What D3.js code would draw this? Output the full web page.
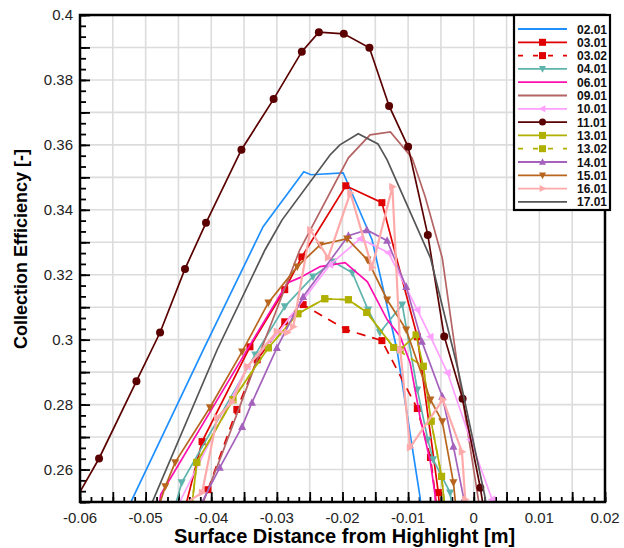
<!DOCTYPE html>
<html>
<head>
<meta charset="utf-8">
<script src="https://cdn.jsdelivr.net/npm/d3@7/dist/d3.min.js"></script>
<style>
  body { margin: 0; background: #fff; }
  text { font-family: "Liberation Sans", Arial, Helvetica, sans-serif; }
</style>
</head>
<body>
<script>
// series data: [surface distance (m), collection efficiency]
var s0201 = [[-0.0522,0.2502],[-0.0412,0.2969],[-0.0321,0.3348],[-0.0259,0.3517],[-0.0248,0.3508],[-0.0199,0.3514],[-0.0155,0.3308],[-0.0117,0.2969],[-0.0082,0.2517],[-0.0080,0.2480]];
var s0301 = [[-0.0440,0.2480],[-0.0414,0.2686],[-0.0341,0.2978],[-0.0288,0.3154],[-0.0262,0.3255],[-0.0195,0.3474],[-0.0140,0.3422],[-0.0086,0.3009],[-0.0054,0.2529],[-0.0052,0.2480]];
var s0302 = [[-0.0405,0.2538],[-0.0361,0.2785],[-0.0330,0.2938],[-0.0288,0.3055],[-0.0260,0.3108],[-0.0195,0.3031],[-0.0140,0.2997],[-0.0086,0.2788],[-0.0066,0.2637],[-0.0056,0.2480]];
var s0401 = [[-0.0456,0.2480],[-0.0445,0.2560],[-0.0333,0.2954],[-0.0288,0.3102],[-0.0245,0.3194],[-0.0214,0.3240],[-0.0185,0.3206],[-0.0161,0.3092],[-0.0143,0.3022],[-0.0109,0.3108],[-0.0086,0.2846],[-0.0070,0.2692],[-0.0062,0.2631],[-0.0036,0.2529],[-0.0033,0.2480]];
var s0601 = [[-0.0480,0.2480],[-0.0477,0.2523],[-0.0336,0.3000],[-0.0284,0.3175],[-0.0265,0.3191],[-0.0234,0.3225],[-0.0196,0.3237],[-0.0162,0.3178],[-0.0132,0.3062],[-0.0112,0.3009],[-0.0097,0.2929],[-0.0082,0.2763],[-0.0066,0.2622],[-0.0059,0.2523],[-0.0058,0.2480]];
var s0901 = [[-0.0416,0.2480],[-0.0384,0.2646],[-0.0330,0.2938],[-0.0265,0.3277],[-0.0191,0.3560],[-0.0158,0.3631],[-0.0127,0.3640],[-0.0094,0.3560],[-0.0074,0.3440],[-0.0048,0.3252],[-0.0024,0.2908],[0.0007,0.2508],[0.0009,0.2480]];
var s1001 = [[-0.0453,0.2480],[-0.0345,0.2917],[-0.0298,0.3022],[-0.0219,0.3231],[-0.0173,0.3311],[-0.0130,0.3268],[-0.0086,0.3092],[-0.0066,0.3009],[-0.0040,0.2898],[-0.0005,0.2692],[0.0028,0.2508],[0.0030,0.2480]];
var s1101 = [[-0.0606,0.2510],[-0.0571,0.2634],[-0.0514,0.2872],[-0.0478,0.3022],[-0.0440,0.3218],[-0.0408,0.3360],[-0.0354,0.3585],[-0.0305,0.3741],[-0.0262,0.3887],[-0.0236,0.3947],[-0.0198,0.3942],[-0.0159,0.3899],[-0.0129,0.3720],[-0.0100,0.3594],[-0.0070,0.3322],[-0.0045,0.3010],[-0.0017,0.2818],[0.0010,0.2544],[0.0015,0.2480]];
var s1301 = [[-0.0430,0.2480],[-0.0422,0.2622],[-0.0367,0.2815],[-0.0313,0.2975],[-0.0268,0.3080],[-0.0227,0.3126],[-0.0191,0.3123],[-0.0163,0.3084],[-0.0122,0.2976],[-0.0112,0.2969],[-0.0088,0.3015],[-0.0077,0.2918],[-0.0065,0.2749],[-0.0049,0.2579],[-0.0044,0.2480]];
var s1302 = [[-0.0430,0.2480],[-0.0422,0.2622],[-0.0367,0.2815],[-0.0313,0.2975],[-0.0268,0.3080],[-0.0227,0.3126],[-0.0191,0.3123],[-0.0163,0.3084],[-0.0122,0.2976],[-0.0077,0.2918],[-0.0065,0.2749],[-0.0049,0.2579],[-0.0044,0.2480]];
var s1401 = [[-0.0419,0.2480],[-0.0387,0.2606],[-0.0353,0.2732],[-0.0338,0.2806],[-0.0300,0.2975],[-0.0260,0.3132],[-0.0191,0.3320],[-0.0163,0.3338],[-0.0132,0.3305],[-0.0103,0.3163],[-0.0079,0.2994],[-0.0048,0.2825],[-0.0031,0.2671],[-0.0015,0.2508],[-0.0014,0.2480]];
var s1501 = [[-0.0481,0.2480],[-0.0470,0.2548],[-0.0455,0.2622],[-0.0402,0.2791],[-0.0353,0.2963],[-0.0313,0.3114],[-0.0269,0.3225],[-0.0234,0.3292],[-0.0193,0.3311],[-0.0162,0.3246],[-0.0132,0.3123],[-0.0103,0.3031],[-0.0066,0.2815],[-0.0048,0.2748],[-0.0031,0.2560],[-0.0027,0.2480]];
var s1601 = [[-0.0451,0.2480],[-0.0414,0.2529],[-0.0391,0.2760],[-0.0368,0.2809],[-0.0345,0.2917],[-0.0300,0.3025],[-0.0284,0.3022],[-0.0275,0.3040],[-0.0249,0.3338],[-0.0222,0.3252],[-0.0188,0.3452],[-0.0155,0.3222],[-0.0124,0.3471],[-0.0112,0.2969],[-0.0097,0.2668],[-0.0047,0.2815],[-0.0018,0.2655],[-0.0013,0.2508],[-0.0012,0.2480]];
var s1701 = [[-0.0494,0.2480],[-0.0391,0.2969],[-0.0318,0.3277],[-0.0292,0.3369],[-0.0219,0.3569],[-0.0204,0.3600],[-0.0176,0.3634],[-0.0146,0.3603],[-0.0132,0.3554],[-0.0066,0.3252],[-0.0024,0.2908],[0.0017,0.2517],[0.0019,0.2480]];

var seriesNames = ["02.01","03.01","03.02","04.01","06.01","09.01","10.01","11.01","13.01","13.02","14.01","15.01","16.01","17.01"];
var seriesData = [s0201, s0301, s0302, s0401, s0601, s0901, s1001, s1101, s1301, s1302, s1401, s1501, s1601, s1701];
var seriesColors = ["#1e8fff","#e00000","#e00000","#5fb3ad","#ff0fb0","#b46464","#ffa0ff","#5a0000","#b0b000","#b0b000","#a462bc","#b8651e","#ffaaaa","#555555"];
var seriesMarkers = ["none","square","square","tridown","none","none","trileft","circle","square","square","triup","tridown","triright","none"];
var seriesDashed = [false,false,true,false,false,false,false,false,false,true,false,false,false,false];

var xTickValues = [-0.06,-0.05,-0.04,-0.03,-0.02,-0.01,0,0.01,0.02];
var yTickValues = [0.26,0.28,0.3,0.32,0.34,0.36,0.38,0.4];

// Chart Params
var svgWidth = 624;
var svgHeight = 548;
var margin = { top: 15, right: 19, bottom: 46, left: 80 };
var width = svgWidth - margin.left - margin.right;
var height = svgHeight - margin.top - margin.bottom;

var svg = d3.select("body")
  .append("svg")
  .attr("width", svgWidth)
  .attr("height", svgHeight);

var chartGroup = svg.append("g")
  .attr("transform", `translate(${margin.left}, ${margin.top})`);

var xScale = d3.scaleLinear().domain([-0.06, 0.02]).range([0, width]);
var yScale = d3.scaleLinear().domain([0.25, 0.4]).range([height, 0]);

// clip path for the plot area
svg.append("defs").append("clipPath").attr("id", "plotclip")
  .append("rect").attr("width", width).attr("height", height);

// grid: vertical every 0.005, horizontal every 0.01
var xGrid = d3.range(-0.06, 0.0201, 0.005);
var yGrid = d3.range(0.25, 0.4001, 0.01);
chartGroup.append("g").selectAll("line").data(xGrid).enter().append("line")
  .attr("x1", d => xScale(d)).attr("x2", d => xScale(d))
  .attr("y1", 0).attr("y2", height)
  .attr("stroke", "#dcdcdc").attr("stroke-width", 1.6);
chartGroup.append("g").selectAll("line").data(yGrid).enter().append("line")
  .attr("x1", 0).attr("x2", width)
  .attr("y1", d => yScale(d)).attr("y2", d => yScale(d))
  .attr("stroke", "#dcdcdc").attr("stroke-width", 1.6);

// ticks pointing inward
var xMajor = d3.range(-0.06, 0.0201, 0.005);
var xMinor = d3.range(-0.06, 0.0201, 0.005 / 3);
var yMajor = d3.range(0.25, 0.4001, 0.01);
var yMinor = d3.range(0.25, 0.4001, 0.01 / 3);

chartGroup.append("g").attr("class", "tk").attr("transform", `translate(0, ${height})`)
  .call(d3.axisTop(xScale).tickValues(xMinor).tickSize(5).tickFormat(""));
chartGroup.append("g").attr("class", "tk").attr("transform", `translate(0, ${height})`)
  .call(d3.axisTop(xScale).tickValues(xMajor).tickSize(10).tickFormat(""));
chartGroup.append("g").attr("class", "tk")
  .call(d3.axisRight(yScale).tickValues(yMinor).tickSize(6).tickFormat(""));
chartGroup.append("g").attr("class", "tk")
  .call(d3.axisRight(yScale).tickValues(yMajor).tickSize(10).tickFormat(""));
chartGroup.selectAll(".tk .domain").remove();
chartGroup.selectAll(".tk line").attr("stroke", "#000").attr("stroke-width", 1.8);

// tick labels
var fmt = d => String(+d.toFixed(3));
chartGroup.append("g").selectAll("text").data(xTickValues).enter().append("text")
  .attr("x", d => xScale(d)).attr("y", height + 21)
  .attr("text-anchor", "middle").attr("font-size", 15).attr("fill", "#222")
  .text(fmt);
chartGroup.append("g").selectAll("text").data(yTickValues).enter().append("text")
  .attr("x", -7).attr("y", d => yScale(d) + 5)
  .attr("text-anchor", "end").attr("font-size", 15).attr("fill", "#222")
  .text(fmt);

// lines
var line = d3.line().x(d => xScale(d[0])).y(d => yScale(d[1]));
var plot = chartGroup.append("g").attr("clip-path", "url(#plotclip)");

function markerPath(type, s) {
  var h = s / 2;
  if (type == "square") return `M${-h},${-h}H${h}V${h}H${-h}Z`;
  if (type == "triup") return `M0,${-h * 1.1}L${h},${h * 0.8}L${-h},${h * 0.8}Z`;
  if (type == "tridown") return `M0,${h * 1.1}L${h},${-h * 0.8}L${-h},${-h * 0.8}Z`;
  if (type == "trileft") return `M${-h * 1.1},0L${h * 0.8},${-h}L${h * 0.8},${h}Z`;
  if (type == "triright") return `M${h * 1.1},0L${-h * 0.8},${-h}L${-h * 0.8},${h}Z`;
  if (type == "circle") return `M${h},0A${h},${h} 0 1,1 ${-h},0A${h},${h} 0 1,1 ${h},0Z`;
  return "";
}

seriesData.forEach(function (data, i) {
  var w = (seriesNames[i] == "16.01") ? 2.2 : 1.7;
  plot.append("path")
    .datum(data)
    .attr("d", line)
    .attr("fill", "none")
    .attr("stroke", seriesColors[i])
    .attr("stroke-width", w)
    .attr("stroke-dasharray", seriesDashed[i] ? "9,7" : null);

  if (seriesMarkers[i] != "none") {
    var size = seriesMarkers[i] == "circle" ? 8 : (seriesMarkers[i] == "square" ? 7 : 8);
    plot.append("g").selectAll("path")
      .data(data.filter(d => d[1] > 0.2505))
      .enter().append("path")
      .attr("transform", d => `translate(${xScale(d[0])}, ${yScale(d[1])})`)
      .attr("d", markerPath(seriesMarkers[i], size))
      .attr("fill", seriesColors[i]);
  }
});

// frame
chartGroup.append("rect")
  .attr("width", width).attr("height", height)
  .attr("fill", "none").attr("stroke", "#000").attr("stroke-width", 2.5);

// axis titles
svg.append("text")
  .attr("transform", `translate(${margin.left + width / 2 + 2}, ${svgHeight - 5})`)
  .attr("text-anchor", "middle").attr("font-size", 20).attr("font-weight", "bold")
  .text("Surface Distance from Highlight [m]");
svg.append("text")
  .attr("transform", `translate(27, ${margin.top + 234}) rotate(-90)`)
  .attr("text-anchor", "middle").attr("font-size", 18).attr("font-weight", "bold")
  .text("Collection Efficiency [-]");

// legend
var legend = svg.append("g").attr("transform", "translate(514, 15)");
legend.append("rect")
  .attr("width", 96).attr("height", 195)
  .attr("fill", "#fff").attr("stroke", "#000").attr("stroke-width", 2.2);
seriesNames.forEach(function (name, i) {
  var yy = 14 + i * 13.3;
  var row = legend.append("g").attr("transform", `translate(0, ${yy})`);
  row.append("line")
    .attr("x1", 4).attr("x2", 53).attr("y1", 0).attr("y2", 0)
    .attr("stroke", seriesColors[i]).attr("stroke-width", 1.8)
    .attr("stroke-dasharray", seriesDashed[i] ? "5,10" : null);
  if (seriesMarkers[i] != "none") {
    row.append("path")
      .attr("transform", "translate(28.5, 0)")
      .attr("d", markerPath(seriesMarkers[i], 7))
      .attr("fill", seriesColors[i]);
  }
  row.append("text")
    .attr("x", 63).attr("y", 4.5)
    .attr("font-size", 12).attr("font-weight", "bold").attr("fill", "#111")
    .text(name);
});
</script>
</body>
</html>
